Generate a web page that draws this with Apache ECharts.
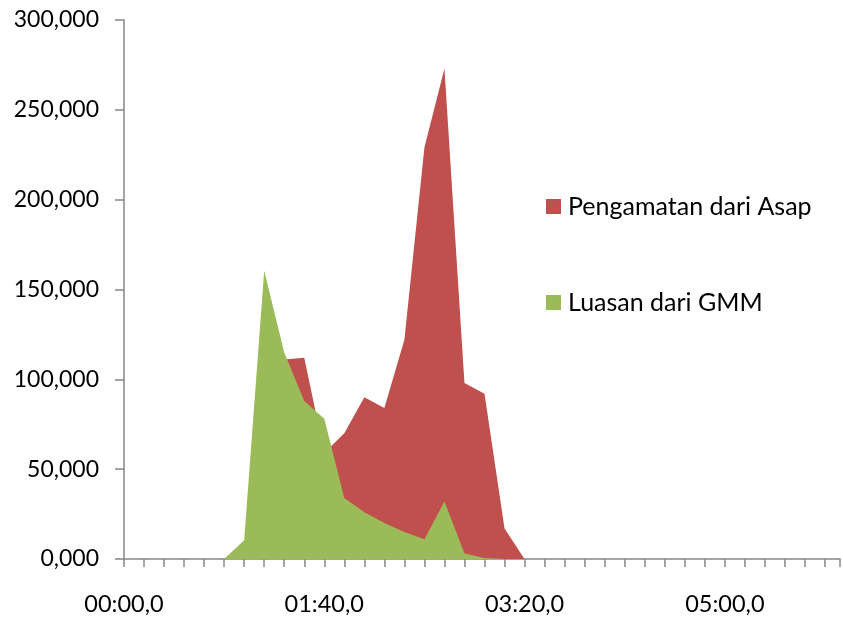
<!DOCTYPE html>
<html>
<head>
<meta charset="utf-8">
<script src="https://cdn.jsdelivr.net/npm/echarts@6/dist/echarts.min.js"></script>
<style>
  html, body { margin: 0; padding: 0; background: #ffffff; }
  #chart { width: 843px; height: 617px; }
</style>
</head>
<body>
<div id="chart"></div>
<script>
// Elapsed time in seconds (one sample every 10 s)
const seconds = [0, 10, 20, 30, 40, 50, 60, 70, 80, 90, 100, 110, 120, 130, 140, 150, 160, 170, 180, 190, 200];
// Area observed from the smoke
const asap = [0, 0, 0, 0, 0, 0, 5, 95, 111, 112, 59, 70, 90, 84, 122, 229, 273, 98, 92, 17, 0];
// Area estimated from the GMM
const gmm = [0, 0, 0, 0, 0, 0, 10.5, 160.5, 115, 88, 78, 34, 26, 20, 15, 11, 32, 3, 0.5, 0, 0];

const seriesNames = ['Pengamatan dari Asap', 'Luasan dari GMM'];
const seriesColors = ['#C0504D', '#9BBB59'];

const pairs = vals => seconds.map((s, i) => [s, vals[i]]);

// mm:ss,0 time labels
function fmtTime(v) {
  const m = Math.floor(v / 60);
  const s = Math.round(v % 60);
  return String(m).padStart(2, '0') + ':' + String(s).padStart(2, '0') + ',0';
}

const axisGrey = '#868686';
const font = 'Lato, "Open Sans", sans-serif';

const chart = echarts.init(document.getElementById('chart'), null, { renderer: 'canvas' });
chart.setOption({
  animation: false,
  backgroundColor: '#ffffff',
  grid: { left: 124, right: 0, top: 20, bottom: 58, containLabel: false },
  legend: {
    orient: 'vertical',
    left: 546,
    top: 194,
    padding: 0,
    icon: 'rect',
    itemWidth: 15,
    itemHeight: 15,
    itemGap: 71,
    textStyle: { fontFamily: font, fontSize: 25, color: '#000000', lineHeight: 25, padding: [0, 0, 0, 2] },
    data: seriesNames
  },
  xAxis: {
    type: 'value',
    min: 0,
    max: 357.5,
    interval: 10,
    axisLine: { show: true, lineStyle: { color: axisGrey, width: 1.5 } },
    axisTick: { show: true, length: 8, lineStyle: { color: axisGrey, width: 1.5 } },
    splitLine: { show: false },
    axisLabel: {
      margin: 33,
      fontFamily: font,
      fontSize: 23.5,
      color: '#000000',
      formatter: v => (v % 100 === 0 ? fmtTime(v) : '')
    }
  },
  yAxis: {
    type: 'value',
    min: 0,
    max: 300,
    interval: 50,
    axisLine: { show: true, lineStyle: { color: axisGrey, width: 1.5 } },
    axisTick: { show: true, length: 9, lineStyle: { color: axisGrey, width: 1.5 } },
    splitLine: { show: false },
    axisLabel: {
      margin: 25,
      fontFamily: font,
      fontSize: 23,
      color: '#000000',
      formatter: v => v.toFixed(3).replace('.', ',')
    }
  },
  series: [
    {
      name: seriesNames[0],
      type: 'line',
      data: pairs(asap),
      showSymbol: false,
      symbol: 'none',
      color: seriesColors[0],
      lineStyle: { width: 0 },
      areaStyle: { color: seriesColors[0], opacity: 1 },
      z: 2
    },
    {
      name: seriesNames[1],
      type: 'line',
      data: pairs(gmm),
      showSymbol: false,
      symbol: 'none',
      color: seriesColors[1],
      lineStyle: { width: 0 },
      areaStyle: { color: seriesColors[1], opacity: 1 },
      z: 3
    }
  ]
});
</script>
</body>
</html>
